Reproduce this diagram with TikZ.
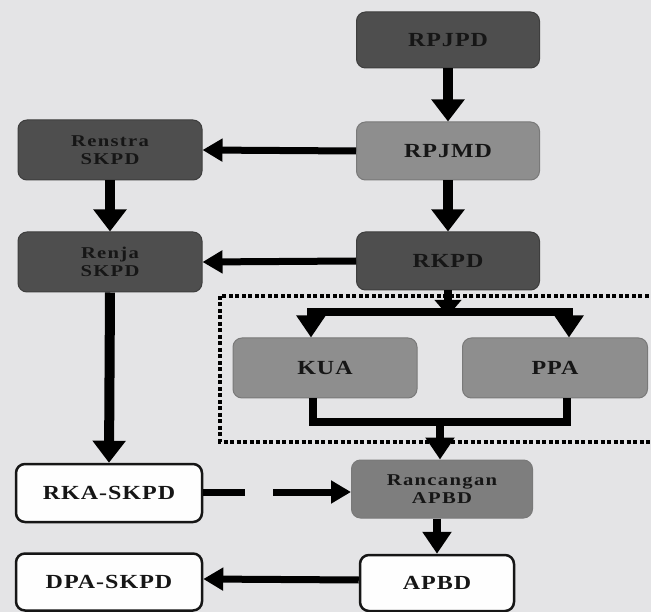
\documentclass[tikz,border=0pt]{standalone}
\usepackage{fontspec}
\setmainfont{Liberation Serif}
\newfontfamily\lblfont[FakeStretch=1.2,LetterSpace=5]{Liberation Serif}
\newfontfamily\smlfont[FakeStretch=1.25,LetterSpace=8]{Liberation Serif}
\usetikzlibrary{arrows.meta}
\definecolor{bg}{HTML}{E4E4E6}
\definecolor{dark}{HTML}{4E4E4E}
\definecolor{mid}{HTML}{8E8E8E}
\definecolor{midd}{HTML}{7E7E7E}
\definecolor{ink}{HTML}{161616}
\begin{document}
\begin{tikzpicture}[x=1pt,y=-1pt,
  box/.style={rounded corners=9pt,minimum width=183pt,minimum height=58pt,inner sep=2pt,align=center,text=ink},
  big/.style={font=\lblfont\bfseries\fontsize{20}{22}\selectfont},
  sml/.style={font=\smlfont\bfseries\fontsize{16.5}{18}\selectfont},
  darkbox/.style={box,fill=dark,draw=dark!80!black,line width=1pt},
  midbox/.style={box,fill=mid,draw=mid!85!black,line width=1pt},
  whitebox/.style={box,fill=white!97!bg,draw=ink,line width=2.5pt},
  bigarr/.style={draw=black,line width=10pt,-{Triangle[width=32pt,length=22pt]}},
  hline/.style={draw=black,line width=8pt},
  midarr/.style={draw=black,line width=8pt,-{Triangle[width=28pt,length=22pt]}},
  sidearr/.style={draw=black,line width=7pt,-{Triangle[width=22pt,length=20pt]}}
]
\fill[bg] (0,0) rectangle (651,612);
\useasboundingbox (0,0) rectangle (651,612);

\node[darkbox,big,minimum height=56pt] (rpjpd) at (448,40) {RPJPD};
\node[midbox,big] (rpjmd) at (448,151) {RPJMD};
\node[darkbox,big] (rkpd) at (448,261) {RKPD};
\node[darkbox,sml,minimum width=184pt,minimum height=60pt] (renstra) at (110,150) {Renstra\\SKPD};
\node[darkbox,sml,minimum width=184pt,minimum height=60pt] (renja) at (110,262) {Renja\\SKPD};

\draw[black,line width=4pt,dash pattern=on 4pt off 2.5pt] (220,296) rectangle (662,442);

\node[midbox,big,minimum width=184pt,minimum height=60pt] (kua) at (325,368) {KUA};
\node[midbox,big,minimum width=185pt,minimum height=60pt] (ppa) at (555,368) {PPA};

\node[midbox,fill=midd,sml,minimum width=181pt,minimum height=58pt] (ranc) at (442,489) {Rancangan\\APBD};
\node[whitebox,big,minimum width=186pt,minimum height=58pt] (rka) at (109,493) {RKA-SKPD};
\node[whitebox,big,minimum width=154pt,minimum height=56pt] (apbd) at (437,583) {APBD};
\node[whitebox,big,minimum width=186pt,minimum height=57pt] (dpa) at (109,582) {DPA-SKPD};

% vertical main arrows
\draw[bigarr] (rpjpd.south) -- (rpjmd.north);
\draw[bigarr] (rpjmd.south) -- (rkpd.north);
\draw[bigarr] (renstra.south) -- (renja.north);
\draw[bigarr] (renja.south) -- (rka.north);

% side arrows
\draw[sidearr] (rpjmd.west) -- (renstra.east);
\draw[sidearr] (rkpd.west) -- (renja.east);
\draw[sidearr] ([yshift=3pt]apbd.west) -- ([yshift=3pt]dpa.east);

% branch
\coordinate (br) at (448,312);
\draw[draw=black,line width=8pt,-{Triangle[width=26pt,length=16pt]}] (rkpd.south) -- ([yshift=-4pt]br);
\coordinate (bl) at (311,312);
\coordinate (brr) at (569,312);
\draw[hline,line cap=rect] (bl) -- (brr);
\draw[midarr] (bl) -- (bl |- kua.north);
\draw[midarr] (brr) -- (brr |- ppa.north);

% merge
\coordinate (ml) at (313,422);
\coordinate (mr) at (567,422);
\coordinate (mg) at (440,422);
\draw[hline,line join=miter] (ml |- kua.south) -- (ml) -- (mr) -- (mr |- ppa.south);
\draw[midarr] (mg) -- (mg |- ranc.north);

% dashed arrow (two pieces)
\coordinate (d1) at (245,492);
\coordinate (d2) at (273,492);
\draw[draw=black,line width=7pt] (rka.east |- d1) -- (d1);
\draw[sidearr] (d2) -- (ranc.west |- d2);

\draw[midarr] (ranc.south -| apbd.north) -- (apbd.north);
\end{tikzpicture}
\end{document}
